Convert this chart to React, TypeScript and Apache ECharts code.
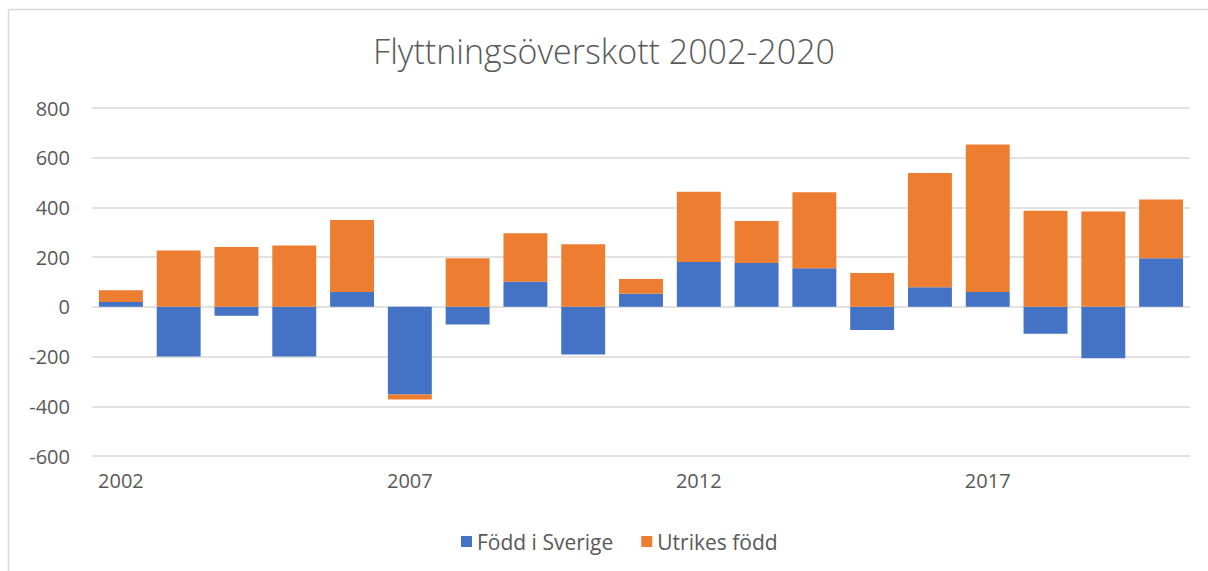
import React, { useEffect, useRef } from "react";
import * as echarts from "echarts";

const years = [
  "2002", "2003", "2004", "2005", "2006", "2007", "2008", "2009", "2010", "2011",
  "2012", "2013", "2014", "2015", "2016", "2017", "2018", "2019", "2020",
];
const foddISverige = [20, -200, -36, -200, 60, -353, -71, 101, -192, 53, 180, 176, 155, -93, 79, 60, -108, -207, 196];
const utrikesFodd = [47, 227, 241, 247, 289, -20, 196, 195, 252, 59, 283, 169, 306, 136, 460, 593, 387, 384, 236];
const yMin = -600;
const yMax = 800;
const yStep = 200;

const FONT = "'Open Sans', 'Noto Sans', sans-serif";
const TEXT = "#595959";

export default function App() {
  const ref = useRef<HTMLDivElement>(null);
  useEffect(() => {
    document.body.style.margin = "0";
    const chart = echarts.init(ref.current!, null, { renderer: "svg" });
    chart.setOption({
      animation: false,
      backgroundColor: "#ffffff",
      title: {
        text: "Flyttningsöverskott 2002-2020",
        left: "center",
        top: 29,
        textStyle: { fontFamily: FONT, fontSize: 34, fontWeight: 300, color: TEXT },
      },
      graphic: [
        { type: "line", shape: { x1: 8.5, y1: 9.5, x2: 8.5, y2: 571 }, style: { stroke: "#d9d9d9", lineWidth: 1.5 } },
        { type: "line", shape: { x1: 8.5, y1: 9.5, x2: 1208, y2: 9.5 }, style: { stroke: "#d9d9d9", lineWidth: 1.5 } },
      ],
      legend: {
        left: 456,
        top: 526,
        icon: "rect",
        itemWidth: 11,
        itemHeight: 11,
        itemGap: 28,
        textStyle: { fontFamily: FONT, fontSize: 21, color: TEXT },
        data: ["Född i Sverige", "Utrikes född"],
      },
      grid: { left: 92, right: 18, top: 108, bottom: 115, containLabel: false },
      xAxis: {
        type: "category",
        data: years,
        axisLine: { show: false },
        axisTick: { show: false },
        axisLabel: {
          interval: 4,
          fontFamily: FONT,
          fontSize: 20,
          color: TEXT,
          margin: 14,
        },
      },
      yAxis: {
        type: "value",
        min: yMin,
        max: yMax,
        interval: yStep,
        axisLine: { show: false },
        axisTick: { show: false },
        axisLabel: { fontFamily: FONT, fontSize: 20, color: TEXT, margin: 22 },
        splitLine: { lineStyle: { color: "#d9d9d9", width: 1.5 } },
      },
      series: [
        {
          name: "Född i Sverige",
          type: "bar",
          stack: "total",
          data: foddISverige,
          barCategoryGap: "24%",
          itemStyle: { color: "#4472c4" },
        },
        {
          name: "Utrikes född",
          type: "bar",
          stack: "total",
          data: utrikesFodd,
          barCategoryGap: "24%",
          itemStyle: { color: "#ed7d31" },
        },
      ],
    });
    return () => chart.dispose();
  }, []);
  return <div ref={ref} style={{ width: 1208, height: 571 }} />;
}
